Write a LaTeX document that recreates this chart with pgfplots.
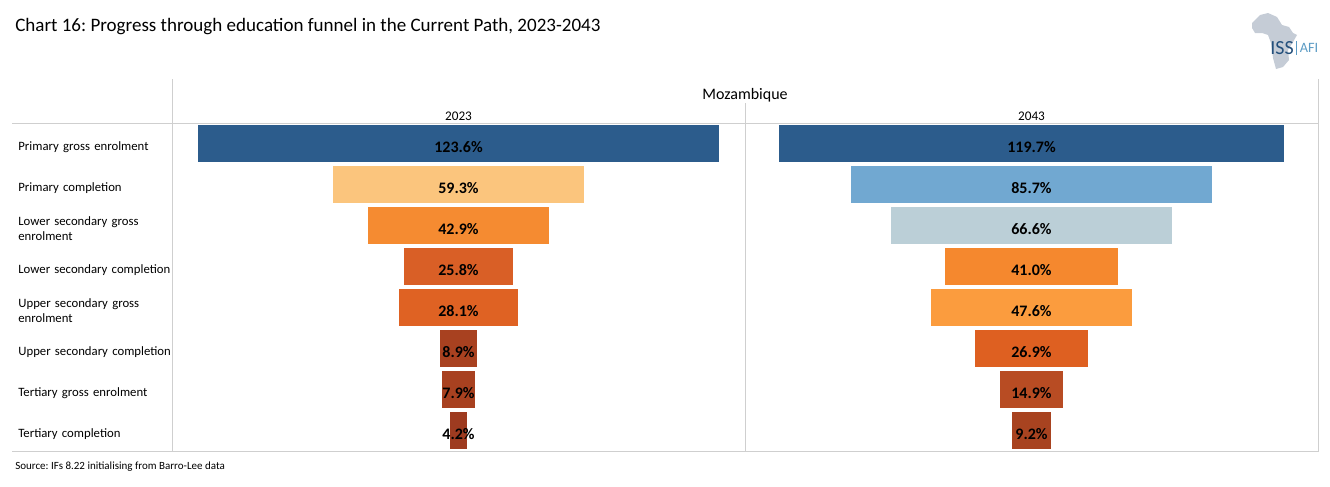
\documentclass[border=0pt]{standalone}
\usepackage{pgfplots}
\pgfplotsset{compat=1.18}
\usepackage{fontspec}
\setmainfont{Carlito}
\frenchspacing
\definecolor{gridc}{HTML}{CFCFCF}
\definecolor{logog}{HTML}{C5CCD6}
\definecolor{isscol}{HTML}{24507C}
\definecolor{aficol}{HTML}{5B9BC4}
\definecolor{a1}{HTML}{2C5C8C}
\definecolor{a2}{HTML}{FBC57D}
\definecolor{a3}{HTML}{F58B31}
\definecolor{a4}{HTML}{D95F26}
\definecolor{a5}{HTML}{DF6223}
\definecolor{a6}{HTML}{A84120}
\definecolor{a7}{HTML}{A84120}
\definecolor{a8}{HTML}{9E3B20}
\definecolor{b2}{HTML}{71A8D1}
\definecolor{b3}{HTML}{BBCFD7}
\definecolor{b4}{HTML}{F5882E}
\definecolor{b5}{HTML}{FB9C3E}
\definecolor{b6}{HTML}{DE6021}
\definecolor{b7}{HTML}{B84C23}
\definecolor{b8}{HTML}{A84320}
\newcommand{\fbar}[3]{%
  \addplot[fill=#3,draw=none] coordinates {({#2/2},#1)};
  \addplot[fill=#3,draw=none] coordinates {({-#2/2},#1)};
  \node[font=\fontsize{12pt}{14pt}\selectfont\bfseries,text=black,inner sep=0pt] at (axis cs:0,#1+0.08) {#2\%};
}
\pgfplotsset{
  funnel/.style={
    anchor=south west, scale only axis,
    width=429.75pt, height=245.25pt,
    xmin=-67.95, xmax=67.95,
    ymin=-0.476, ymax=7.5, y dir=reverse,
    xbar, bar width=27.75pt, bar shift=0pt,
    axis line style={draw=none},
    xtick=\empty,
    clip=false,
  }
}
\begin{document}
\begin{tikzpicture}
\begin{scope}[x=.75pt,y=-.75pt]
\path[use as bounding box] (0,0) rectangle (1330,486);
\draw[gridc,line width=.75pt] (12,123.5) -- (1319,123.5);
\draw[gridc,line width=.75pt] (12,451.5) -- (1319,451.5);
\draw[gridc,line width=.75pt] (172.5,79) -- (172.5,451.5);
\draw[gridc,line width=.75pt] (745.5,103) -- (745.5,451.5);
\draw[gridc,line width=.75pt] (1318.5,79) -- (1318.5,451.5);
\node[anchor=west,inner sep=0pt,font=\fontsize{14.27pt}{16pt}\selectfont] at (15,27) {Chart 16: Progress through education funnel in the Current Path, 2023-2043};
\node[inner sep=0pt,font=\fontsize{12pt}{14pt}\selectfont] at (745,95) {Mozambique};
\node[inner sep=0pt,font=\fontsize{9.9pt}{11pt}\selectfont] at (458.5,116.5) {2023};
\node[inner sep=0pt,font=\fontsize{9.9pt}{11pt}\selectfont] at (1031.5,116.5) {2043};
\node[anchor=west,inner sep=0pt,font=\fontsize{8.25pt}{10pt}\selectfont] at (15,466.5) {Source: IFs 8.22 initialising from Barro-Lee data};
% logo
\fill[logog] (1252,23) -- (1260,15) -- (1268,13) -- (1277,17) -- (1282,25) -- (1289,27) -- (1293,33) -- (1297,35) -- (1293,42) -- (1288,50) -- (1289,60) -- (1283,67) -- (1276,69) -- (1273,58) -- (1271,43) -- (1268,35) -- (1262,33) -- (1255,33) -- (1252,28) -- cycle;
\node[anchor=west,inner sep=0pt,text=isscol,font=\fontsize{15pt}{17pt}\selectfont] at (1270,48) {ISS};
\node[anchor=west,inner sep=0pt,text=aficol,font=\fontsize{10.7pt}{12pt}\selectfont] at (1299.5,48) {AFI};
\draw[aficol,line width=.5pt] (1296,41) -- (1296,55);
\end{scope}
\begin{axis}[funnel, at={(129pt,-338.25pt)},
  ytick={0,...,7},
  yticklabels={Primary gross enrolment,Primary completion,{Lower secondary gross\\enrolment\rule[-1.5pt]{0pt}{1pt}},Lower secondary completion,{Upper secondary gross\\enrolment\rule[-1.5pt]{0pt}{1pt}},Upper secondary completion,Tertiary gross enrolment,Tertiary completion},
  major tick length=0pt,
  yticklabel style={text width=116pt,align=left,inner sep=0pt,anchor=east,xshift=1pt,yshift=-2.95pt,
    font=\fontsize{9.55pt}{11.3pt}\selectfont},
]
\fbar{0}{123.6}{a1}
\fbar{1}{59.3}{a2}
\fbar{2}{42.9}{a3}
\fbar{3}{25.8}{a4}
\fbar{4}{28.1}{a5}
\fbar{5}{8.9}{a6}
\fbar{6}{7.9}{a7}
\fbar{7}{4.2}{a8}
\end{axis}
\begin{axis}[funnel, at={(558.75pt,-338.25pt)}, ytick=\empty]
\fbar{0}{119.7}{a1}
\fbar{1}{85.7}{b2}
\fbar{2}{66.6}{b3}
\fbar{3}{41.0}{b4}
\fbar{4}{47.6}{b5}
\fbar{5}{26.9}{b6}
\fbar{6}{14.9}{b7}
\fbar{7}{9.2}{b8}
\end{axis}
\end{tikzpicture}
\end{document}
